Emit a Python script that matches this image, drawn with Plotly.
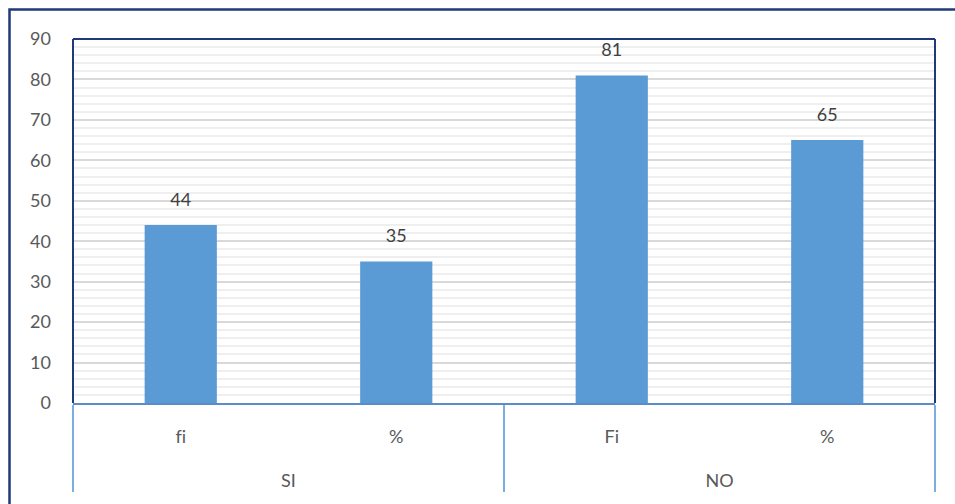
import plotly.graph_objects as go

# Data
group_names = ["SI", "SI", "NO", "NO"]
measures = ["f\u200ci", "%", "F\u200ci", "%\u200b"]
values = [44, 35, 81, 65]
y_ticks = [0, 10, 20, 30, 40, 50, 60, 70, 80, 90]

BAR = "#5b9bd5"
NAVY = "#1f3a78"
TXT = "#595959"
FONT = "Lato, 'Open Sans', sans-serif"

W, H = 955, 504
L, R, T, B = 73, 20, 39, 101
pw, ph = W - L - R, H - T - B

# group labels sit two lines below the axis; raise the text slightly
groups = [f"<br><br><span style='baseline-shift:10px'>{g}</span>" for g in group_names]

fig = go.Figure()
fig.add_trace(go.Bar(
    x=[groups, measures], y=values,
    marker=dict(color=BAR, line=dict(width=0)),
    width=0.335, hoverinfo="skip",
))
# value labels above the bars
fig.add_trace(go.Scatter(
    x=[groups, measures], y=values, mode="text+markers",
    text=[str(v) for v in values], textposition="top center",
    marker=dict(size=22, opacity=0),
    textfont=dict(family=FONT, size=18, color="#404040"),
    hoverinfo="skip", showlegend=False,
))

fig.update_layout(
    width=W, height=H,
    margin=dict(l=L, r=R, t=T, b=B),
    paper_bgcolor="white", plot_bgcolor="white",
    showlegend=False,
    font=dict(family=FONT, size=18, color=TXT),
    xaxis=dict(
        type="multicategory",
        showline=True, linecolor="#5a8dc8", linewidth=2,
        showdividers=True, dividercolor="#7aaee0", dividerwidth=2,
        ticks="", ticklabelstandoff=16,
        tickfont=dict(size=18, color=TXT),
        showgrid=False, zeroline=False,
    ),
    yaxis=dict(
        range=[0, 90], tickvals=y_ticks,
        showgrid=True, gridcolor="#d9d9d9", gridwidth=1.5,
        minor=dict(dtick=2, showgrid=True, gridcolor="#efefef", gridwidth=1.5),
        zeroline=False, showline=False,
        ticks="", ticklabelstandoff=21,
        tickfont=dict(size=18, color=TXT),
    ),
    shapes=[
        # plot area frame (top, left, right)
        dict(type="line", xref="paper", yref="paper", x0=0, x1=1, y0=1, y1=1,
             line=dict(color=NAVY, width=2)),
        dict(type="line", xref="paper", yref="paper", x0=0, x1=0, y0=0, y1=1,
             line=dict(color=NAVY, width=2)),
        dict(type="line", xref="paper", yref="paper", x0=1, x1=1, y0=0, y1=1,
             line=dict(color=NAVY, width=2)),
        # outer chart frame
        dict(type="rect", xref="paper", yref="paper",
             x0=(9.5 - L) / pw, x1=(W + 20 - L) / pw,
             y0=-(B + 20) / ph, y1=(H - B - 9.5) / ph,
             line=dict(color=NAVY, width=2.5), fillcolor="rgba(0,0,0,0)"),
    ],
)

fig.write_html("out.html")
